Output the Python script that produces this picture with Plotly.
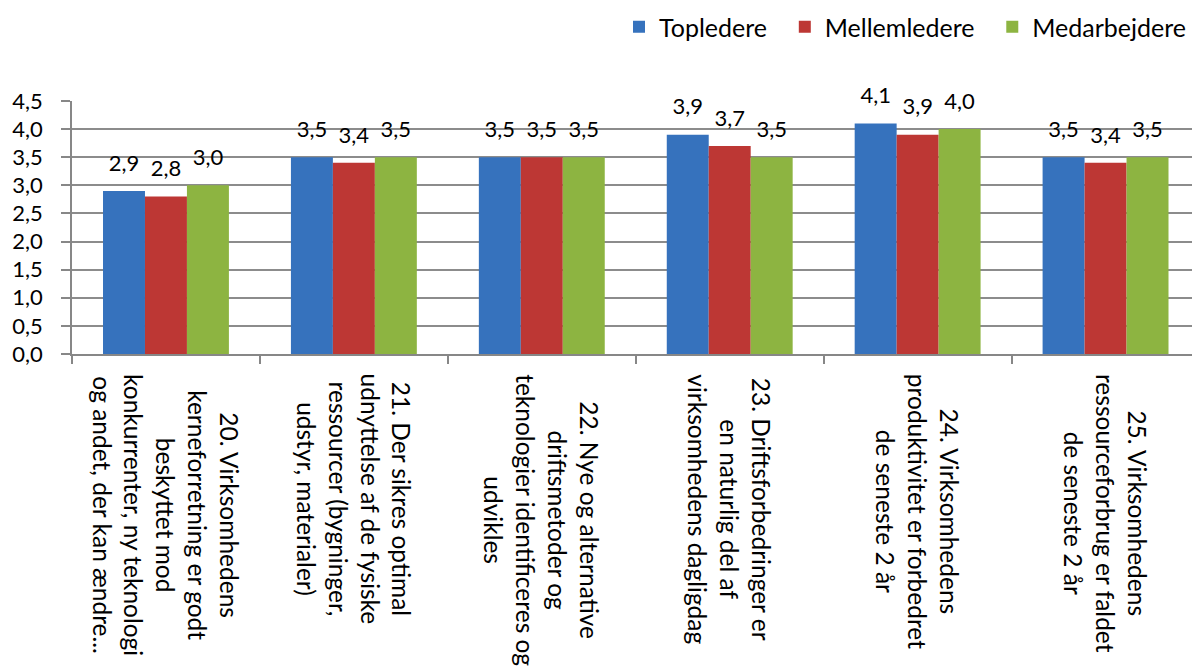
import plotly.graph_objects as go

# Survey statements (x categories) and mean scores per respondent group
categories = [
    "20. Virksomhedens<br>kerneforretning er godt<br>beskyttet mod<br>konkurrenter, ny teknologi<br>og andet, der kan ændre...",
    "21. Der sikres optimal<br>udnyttelse af de fysiske<br>ressourcer (bygninger,<br>udstyr, materialer)",
    "22. Nye og alternative<br>driftsmetoder og<br>teknologier identificeres og<br>udvikles",
    "23. Driftsforbedringer er<br>en naturlig del af<br>virksomhedens dagligdag",
    "24. Virksomhedens<br>produktivitet er forbedret<br>de seneste 2 år",
    "25. Virksomhedens<br>ressourceforbrug er faldet<br>de seneste 2 år",
]
topledere = [2.9, 3.5, 3.5, 3.9, 4.1, 3.5]
mellemledere = [2.8, 3.4, 3.5, 3.7, 3.9, 3.4]
medarbejdere = [3.0, 3.5, 3.5, 3.5, 4.0, 3.5]

series = [
    ("Topledere", topledere, "#3672bd"),
    ("Mellemledere", mellemledere, "#bd3734"),
    ("Medarbejdere", medarbejdere, "#8db441"),
]

FONT = "Lato, 'Open Sans', sans-serif"
GAP = 0.33
PAD = "\u00a0\u00a0"  # extra spacing between legend entries

fig = go.Figure()
for i, (name, values, color) in enumerate(series):
    fig.add_trace(go.Bar(
        name=name + (PAD if i < len(series) - 1 else ""),
        x=categories,
        y=values,
        marker=dict(color=color, line=dict(width=0)),
        hoverinfo="skip",
    ))

# Value labels: grouped text markers sitting just above each bar
for name, values, color in series:
    fig.add_trace(go.Scatter(
        name=name,
        x=categories,
        y=values,
        mode="markers+text",
        marker=dict(size=22, color="rgba(0,0,0,0)"),
        text=[f"{v:.1f}".replace(".", ",") for v in values],
        textposition="top center",
        textfont=dict(family=FONT, size=22, color="#000000"),
        showlegend=False,
        cliponaxis=False,
    ))

# Category labels, rotated and centred under each group
plot_h = 666 - 101 - 312
for cat in categories:
    fig.add_annotation(
        x=cat, xref="x",
        y=-18 / plot_h, yref="paper",
        text=cat,
        textangle=90,
        align="center",
        xanchor="center", yanchor="top",
        showarrow=False,
        font=dict(family=FONT, size=24.5, color="#000000"),
    )

fig.update_layout(
    width=1192, height=666,
    margin=dict(l=72, r=0, t=101, b=312),
    paper_bgcolor="white",
    plot_bgcolor="white",
    separators=",.",
    barmode="group",
    bargap=GAP,
    bargroupgap=0,
    scattermode="group",
    scattergap=GAP,
    font=dict(family=FONT, size=22, color="#000000"),
    legend=dict(
        orientation="h",
        xref="container", yref="container",
        x=1.0, xanchor="right",
        y=1 - 27 / 666, yanchor="middle",
        font=dict(family=FONT, size=25, color="#000000"),
        itemwidth=30,
        traceorder="normal",
    ),
    showlegend=True,
)

fig.update_xaxes(
    range=[-0.5, 5.46],
    showticklabels=False,
    showgrid=False,
    showline=True, linecolor="#878787", linewidth=1.5,
    ticks="outside", tickson="boundaries", ticklen=8,
    tickcolor="#878787", tickwidth=1.5,
)
fig.update_yaxes(
    range=[0, 4.5],
    dtick=0.5,
    tickformat=".1f",
    showgrid=True, gridcolor="#8c8c8c", gridwidth=1.5,
    showline=True, linecolor="#878787", linewidth=1.5,
    ticks="outside", ticklen=9, tickcolor="#878787", tickwidth=1.5,
    ticklabelstandoff=14,
    zeroline=False,
    tickfont=dict(family=FONT, size=22, color="#000000"),
)

fig.write_html("out.html")
